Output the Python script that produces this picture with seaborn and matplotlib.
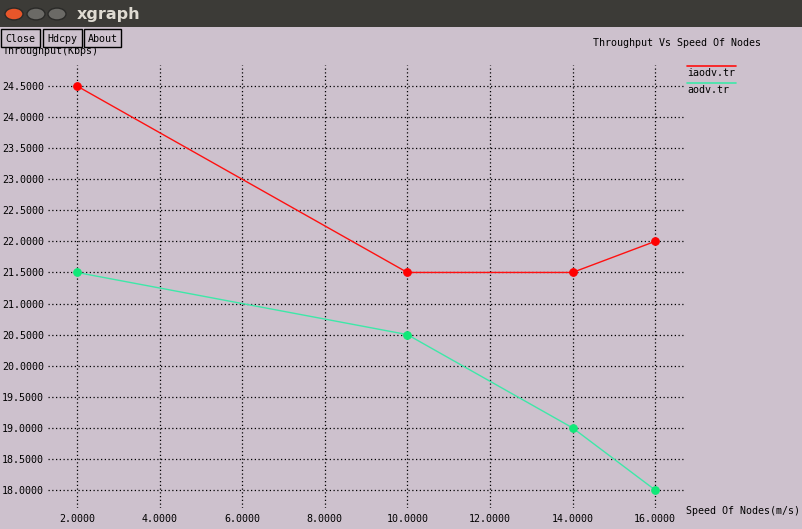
import matplotlib
matplotlib.use("Agg")
import matplotlib.pyplot as plt
from matplotlib.patches import Rectangle, Circle
from matplotlib.lines import Line2D
import seaborn as sns
import pandas as pd

# ── data ────────────────────────────────────────────────
speed = [2, 10, 14, 16]
iaodv = [24.5, 21.5, 21.5, 22.0]
aodv = [21.5, 20.5, 19.0, 18.0]
series_names = ["iaodv.tr", "aodv.tr"]
series_colors = ["#ff1010", "#3ee8a8"]
marker_colors = ["#ff0000", "#10e878"]
xticks = [2, 4, 6, 8, 10, 12, 14, 16]
yticks = [18.0, 18.5, 19.0, 19.5, 20.0, 20.5, 21.0, 21.5, 22.0, 22.5,
          23.0, 23.5, 24.0, 24.5]

df = pd.DataFrame({
    "speed": speed * 2,
    "throughput": iaodv + aodv,
    "file": [series_names[0]] * len(speed) + [series_names[1]] * len(speed),
})

BG = "#cdc1cd"
W, H = 802, 529
FS = 7.2  # fixed-width xgraph font

sns.set_style("white", {"axes.facecolor": BG, "figure.facecolor": BG})
plt.rcParams["font.family"] = ["DejaVu Sans Mono"]
plt.rcParams["text.color"] = "black"
plt.rcParams["xtick.color"] = "black"
plt.rcParams["ytick.color"] = "black"

fig = plt.figure(figsize=(W / 100, H / 100), dpi=100)
fig.patch.set_facecolor(BG)


def fx(px):
    return px / W


def fy(py):
    return 1 - py / H


# plot area (grid extents in pixels)
left, right, top, bottom = 48, 684, 65, 508
ax = fig.add_axes([fx(left), fy(bottom), fx(right - left), (bottom - top) / H])
ax.set_facecolor(BG)

for name, lc, mc in zip(series_names, series_colors, marker_colors):
    sub = df[df["file"] == name]
    sns.lineplot(data=sub, x="speed", y="throughput", ax=ax, color=lc,
                 linewidth=1.0, marker="o", markersize=5.5,
                 markerfacecolor=mc, markeredgecolor=mc, zorder=3,
                 legend=False)

ax.set_xlim(1.298, 16.70)
ax.set_ylim(17.71, 24.838)
ax.set_xticks(xticks)
ax.set_yticks(yticks)
ax.set_xticklabels([f"{v:.4f}" for v in xticks], fontsize=FS)
ax.set_yticklabels([f"{v:.4f}" for v in yticks], fontsize=FS)
ax.tick_params(length=0, pad=3)
ax.tick_params(axis="x", pad=4.5)
ax.grid(True, color="black", linestyle=(0, (1, 2)), linewidth=0.9)
ax.set_axisbelow(True)
ax.set_xlabel("")
ax.set_ylabel("")
for s in ax.spines.values():
    s.set_visible(False)

# axis labels and title, xgraph style
fig.text(fx(686), fy(511), "Speed Of Nodes(m/s)", fontsize=FS, va="center", ha="left")
fig.text(fx(593), fy(43), "Throughput Vs Speed Of Nodes", fontsize=FS, va="center", ha="left")
fig.text(fx(3), fy(51), "Throughput(Kbps)", fontsize=FS, va="center", ha="left", zorder=1)

# legend: line above each label
for i, (name, lc) in enumerate(zip(series_names, series_colors)):
    y_line = 66 + i * 17
    fig.add_artist(Line2D([fx(687), fx(736)], [fy(y_line), fy(y_line)],
                          color=lc, linewidth=1.2))
    fig.text(fx(687), fy(y_line + 7), name, fontsize=FS, va="center", ha="left")

# window title bar
fig.add_artist(Rectangle((0, fy(27)), 1, 27 / H, transform=fig.transFigure,
                         facecolor="#3c3b37", edgecolor="none", zorder=5))
for cx, col in [(14, "#e8562a"), (36, "#6b6a66"), (57, "#6b6a66")]:
    fig.add_artist(Circle((fx(cx), fy(14)), 9 / W, transform=fig.transFigure,
                          facecolor=col, edgecolor="#2a2a28", zorder=6))
fig.text(fx(77), fy(14), "xgraph", fontsize=11.5, fontweight="bold",
         color="#dfdbd2", va="center", ha="left", zorder=7,
         family=["DejaVu Sans"])

# buttons
for label, x0, x1 in [("Close", 1, 40), ("Hdcpy", 43, 82), ("About", 84, 121)]:
    fig.add_artist(Rectangle((fx(x0), fy(47)), fx(x1 - x0), 18 / H,
                             transform=fig.transFigure, facecolor=BG,
                             edgecolor="black", linewidth=1.0, zorder=4))
    fig.text(fx((x0 + x1) / 2), fy(38.5), label, fontsize=FS,
             va="center", ha="center", zorder=5)

fig.savefig("out.png", dpi=100, facecolor=BG)
